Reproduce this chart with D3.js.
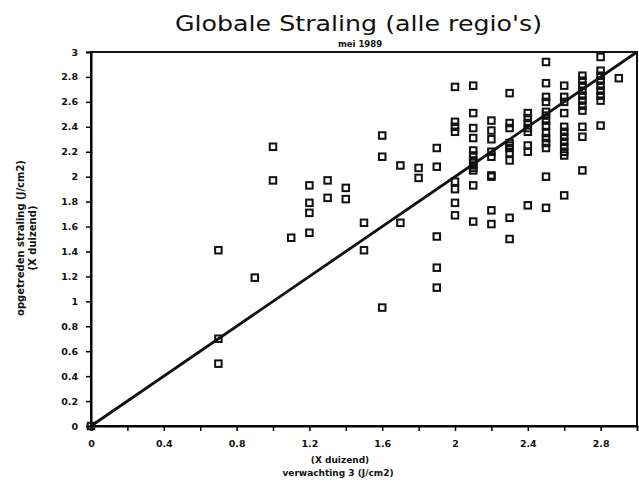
<!DOCTYPE html>
<html><head><meta charset="utf-8">
<script src="https://cdn.jsdelivr.net/npm/d3@7"></script>
<style>body{margin:0;background:#fff;} svg{display:block;}</style>
</head><body>
<script>
const title = "Globale Straling (alle regio's)";
const subtitle = "mei 1989";
const xLabel1 = "(X duizend)";
const xLabel2 = "verwachting 3 (J/cm2)";
const yLabel1 = "opgetreden straling (J/cm2)";
const yLabel2 = "(X duizend)";
const xTickLabels = [0, 0.4, 0.8, 1.2, 1.6, 2, 2.4, 2.8];
const yTickLabels = [0,0.2,0.4,0.6,0.8,1,1.2,1.4,1.6,1.8,2,2.2,2.4,2.6,2.8,3];
const refLine = [[0,0],[3,3]];
// expected (x) values and observed (y) values, per point
const expected = [
 0,
 0.7,0.7,0.7,
 0.9,
 1.0,1.0,
 1.1,
 1.2,1.2,1.2,1.2,
 1.3,1.3,
 1.4,1.4,
 1.5,1.5,
 1.6,1.6,1.6,
 1.7,1.7,
 1.8,1.8,
 1.9,1.9,1.9,1.9,1.9,
 2.0,2.0,2.0,2.0,2.0,2.0,2.0,2.0,
 2.1,2.1,2.1,2.1,2.1,2.1,2.1,2.1,2.1,2.1,2.1,2.1,2.1,
 2.2,2.2,2.2,2.2,2.2,2.2,2.2,2.2,2.2,
 2.3,2.3,2.3,2.3,2.3,2.3,2.3,2.3,2.3,2.3,
 2.4,2.4,2.4,2.4,2.4,2.4,2.4,2.4,
 2.5,2.5,2.5,2.5,2.5,2.5,2.5,2.5,2.5,2.5,2.5,2.5,2.5,2.5,
 2.6,2.6,2.6,2.6,2.6,2.6,2.6,2.6,2.6,2.6,2.6,2.6,
 2.7,2.7,2.7,2.7,2.7,2.7,2.7,2.7,2.7,2.7,2.7,
 2.8,2.8,2.8,2.8,2.8,2.8,2.8,2.8,2.8,
 2.9
];
const observed = [
 0,
 1.41,0.70,0.50,
 1.19,
 2.24,1.97,
 1.51,
 1.93,1.79,1.71,1.55,
 1.97,1.83,
 1.91,1.82,
 1.63,1.41,
 2.33,2.16,0.95,
 2.09,1.63,
 2.07,1.99,
 2.23,2.08,1.52,1.27,1.11,
 2.72,2.44,2.40,2.36,1.96,1.90,1.79,1.69,
 2.73,2.51,2.39,2.31,2.21,2.17,2.13,2.09,2.05,2.11,2.07,1.93,1.64,
 2.45,2.37,2.30,2.20,2.16,2.01,2.00,1.73,1.62,
 2.67,2.43,2.39,2.27,2.23,2.19,2.13,1.67,1.50,2.25,
 2.51,2.47,2.43,2.39,2.36,2.25,2.20,1.77,
 2.92,2.75,2.64,2.60,2.49,2.45,2.41,2.35,2.31,2.27,2.23,2.00,1.75,2.52,
 2.73,2.64,2.60,2.51,2.40,2.36,2.32,2.28,2.24,2.17,1.85,2.20,
 2.81,2.77,2.73,2.69,2.65,2.61,2.57,2.53,2.40,2.32,2.05,
 2.96,2.85,2.81,2.77,2.73,2.69,2.65,2.61,2.41,
 2.79
];

const W = 639, H = 488;
const svg = d3.select("body").append("svg").attr("width", W).attr("height", H);
const x = d3.scaleLinear().domain([0,3]).range([91, 637]);
const y = d3.scaleLinear().domain([0,3]).range([426, 52]);
const font = "'DejaVu Sans', sans-serif";

// title
svg.append("text").attr("x", 175).attr("y", 31)
  .attr("textLength", 367).attr("lengthAdjust","spacingAndGlyphs")
  .attr("font-family","'DejaVu Sans',sans-serif").attr("font-weight","normal").attr("font-size",22).attr("fill","#111").text(title);
svg.append("text").attr("x", 360).attr("y", 47).attr("text-anchor","middle")
  .attr("font-family",font).attr("font-weight","bold").attr("font-size",8.5).attr("fill","#111").text(subtitle);

// frame
svg.append("rect").attr("x", x(0)).attr("y", y(3)).attr("width", x(3)-x(0)).attr("height", y(0)-y(3))
  .attr("fill","none").attr("stroke","#111").attr("stroke-width",2);

// y axis
const yAxis = d3.axisLeft(y).tickValues(yTickLabels).tickSize(5).tickPadding(8)
  .tickFormat(d => d3.format("")(+d.toFixed(1)));
const gy = svg.append("g").attr("transform",`translate(${x(0)},0)`).call(yAxis);
gy.select(".domain").attr("stroke-width",2);
gy.selectAll(".tick line").attr("stroke-width",1.5);
gy.selectAll("text").attr("font-family",font).attr("font-weight","bold").attr("font-size",9.5).attr("fill","#111");

// x axis
const xTicks = d3.range(0, 2.81, 0.2).map(v => +v.toFixed(1));
const xAxis = d3.axisBottom(x).tickValues(xTicks).tickSize(5).tickPadding(9)
  .tickFormat(d => xTickLabels.some(t => Math.abs(t-d) < 1e-6) ? String(+d.toFixed(1)) : "");
const gx = svg.append("g").attr("transform",`translate(0,${y(0)})`).call(xAxis);
gx.select(".domain").attr("stroke-width",2);
gx.selectAll(".tick line").attr("stroke-width",1.5);
gx.selectAll("text").attr("font-family",font).attr("font-weight","bold").attr("font-size",9.5).attr("fill","#111");

// axis titles
svg.append("text").attr("x", 340).attr("y", 463).attr("text-anchor","middle")
  .attr("font-family",font).attr("font-weight","bold").attr("font-size",9).attr("fill","#111").text(xLabel1);
svg.append("text").attr("x", 338).attr("y", 476).attr("text-anchor","middle")
  .attr("font-family",font).attr("font-weight","bold").attr("font-size",9).attr("fill","#111").text(xLabel2);
svg.append("text").attr("transform","translate(24,238) rotate(-90)").attr("text-anchor","middle")
  .attr("font-family",font).attr("font-weight","bold").attr("font-size",10).attr("fill","#111").text(yLabel1);
svg.append("text").attr("transform","translate(36,238) rotate(-90)").attr("text-anchor","middle")
  .attr("font-family",font).attr("font-weight","bold").attr("font-size",10).attr("fill","#111").text(yLabel2);

// reference line
svg.append("path").datum(refLine)
  .attr("d", d3.line().x(d => x(d[0])).y(d => y(d[1])))
  .attr("stroke","#111").attr("stroke-width",2.8).attr("fill","none");

// points
const pts = expected.map((e,i) => ({e, o: observed[i]}));
const s = 6.5;
svg.append("g").selectAll("rect").data(pts).join("rect")
  .attr("x", d => x(d.e) - s/2).attr("y", d => y(d.o) - s/2)
  .attr("width", s).attr("height", s)
  .attr("fill","none").attr("stroke","#111").attr("stroke-width",2);
</script>
</body></html>
